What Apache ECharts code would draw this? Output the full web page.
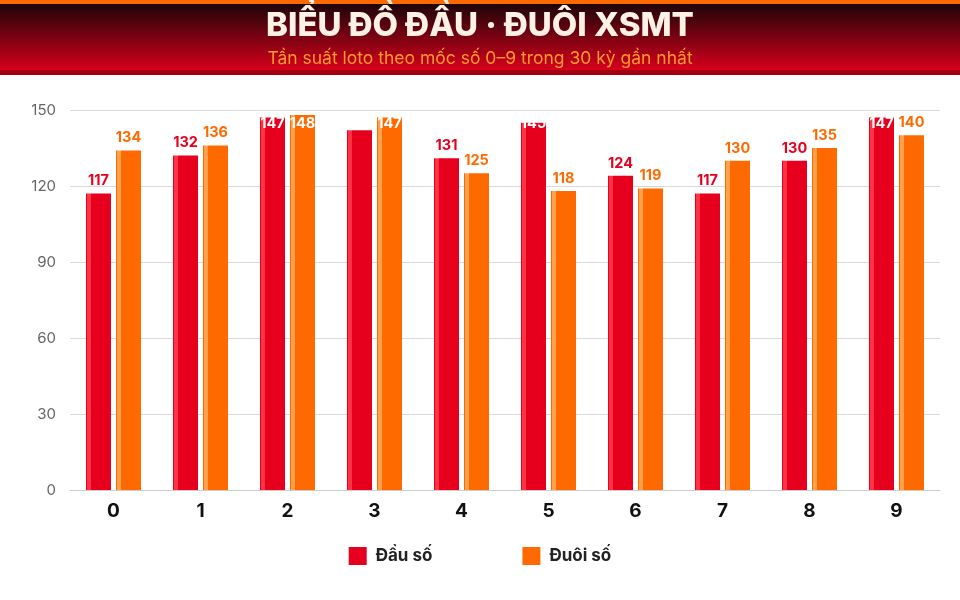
<!DOCTYPE html>
<html>
<head>
<meta charset="utf-8">
<script src="https://cdn.jsdelivr.net/npm/echarts@6/dist/echarts.min.js"></script>
<style>
html,body{margin:0;padding:0;background:#fff;}
#c{width:960px;height:600px;}
</style>
</head>
<body>
<div id="c"></div>
<script>
var categories = ['0','1','2','3','4','5','6','7','8','9'];
var dauSo = [117, 132, 147, 142, 131, 145, 124, 117, 130, 147];
var duoiSo = [134, 136, 148, 147, 125, 118, 119, 130, 135, 140];
var yTicks = [0, 30, 60, 90, 120, 150];
var titleText = 'BIỂU ĐỒ ĐẦU · ĐUÔI XSMT';
var subText = 'Tần suất loto theo mốc số 0–9 trong 30 kỳ gần nhất';

var RED = '#e6001e', RED_HI = '#ff3344';
var ORG = '#ff6a00', ORG_HI = '#ffa04d';

function stripe(base, hi) {
  return {
    type: 'linear', x: 0, y: 0, x2: 1, y2: 0,
    colorStops: [
      {offset: 0, color: base}, {offset: 0.04, color: base},
      {offset: 0.04, color: hi}, {offset: 0.2, color: hi},
      {offset: 0.2, color: base}, {offset: 1, color: base}
    ]
  };
}
function items(arr, col) {
  return arr.map(function (v) {
    return {value: v, label: {color: v >= 142 ? '#ffffff' : col}};
  });
}
var chart = echarts.init(document.getElementById('c'), null, {renderer: 'canvas'});
var labelLayoutFn = function (p) {
  if (p.labelRect.y < 114) {
    return {y: 116, verticalAlign: 'top', align: 'center'};
  }
  return {};
};
chart.setOption({
  animation: false,
  graphic: [
    {type: 'rect', left: 0, top: 0, z: -1, shape: {width: 960, height: 75}, style: {fill: '#a50012'}},
    {type: 'rect', left: 0, top: 0, z: -1, shape: {width: 960, height: 70}, style: {
      fill: {type: 'linear', x: 0, y: 0, x2: 0, y2: 1, colorStops: [
        {offset: 0, color: '#120507'}, {offset: 1, color: '#d6001c'}]}}},
    {type: 'rect', left: 0, top: 0, z: -1, shape: {width: 960, height: 4}, style: {fill: '#ff6a00'}}
  ],
  title: [
    {text: titleText, left: 'center', top: 5,
      textStyle: {color: '#fdf0e4', fontFamily: 'Inter', fontWeight: 800, fontSize: 33}},
    {text: subText, left: 'center', top: 45,
      textStyle: {color: '#ff9a2e', fontFamily: 'Inter', fontWeight: 400, fontSize: 17.5}}
  ],
  legend: {
    bottom: 30, left: 'center', itemWidth: 18, itemHeight: 18, itemGap: 90,
    icon: 'rect',
    textStyle: {fontFamily: 'Inter', fontWeight: 700, fontSize: 17, color: '#222', padding: [0, 0, 0, 4]},
    data: [
      {name: 'Đầu số', itemStyle: {color: RED}},
      {name: 'Đuôi số', itemStyle: {color: ORG}}
    ]
  },
  grid: {left: 70, right: 20, top: 110, bottom: 110},
  xAxis: {
    type: 'category', data: categories,
    axisTick: {show: false},
    axisLine: {lineStyle: {color: '#cccccc'}},
    axisLabel: {color: '#111', fontFamily: 'Inter', fontWeight: 700, fontSize: 19, margin: 12}
  },
  yAxis: {
    type: 'value', min: 0, max: 150, interval: 30,
    axisLine: {show: false}, axisTick: {show: false},
    splitLine: {lineStyle: {color: '#d9d9d9'}},
    axisLabel: {color: '#666', fontFamily: 'Inter', fontSize: 15, margin: 14}
  },
  series: [
    {name: 'Đầu số', type: 'bar', data: items(dauSo, RED), barWidth: 25, barGap: '20%',
      itemStyle: {color: stripe(RED, RED_HI)},
      label: {show: true, position: 'top', distance: 5, fontFamily: 'Inter', fontWeight: 700, fontSize: 14.5},
      labelLayout: labelLayoutFn},
    {name: 'Đuôi số', type: 'bar', data: items(duoiSo, ORG), barWidth: 25, barGap: '20%',
      itemStyle: {color: stripe(ORG, ORG_HI)},
      label: {show: true, position: 'top', distance: 5, fontFamily: 'Inter', fontWeight: 700, fontSize: 14.5},
      labelLayout: labelLayoutFn}
  ]
});
</script>
</body>
</html>
